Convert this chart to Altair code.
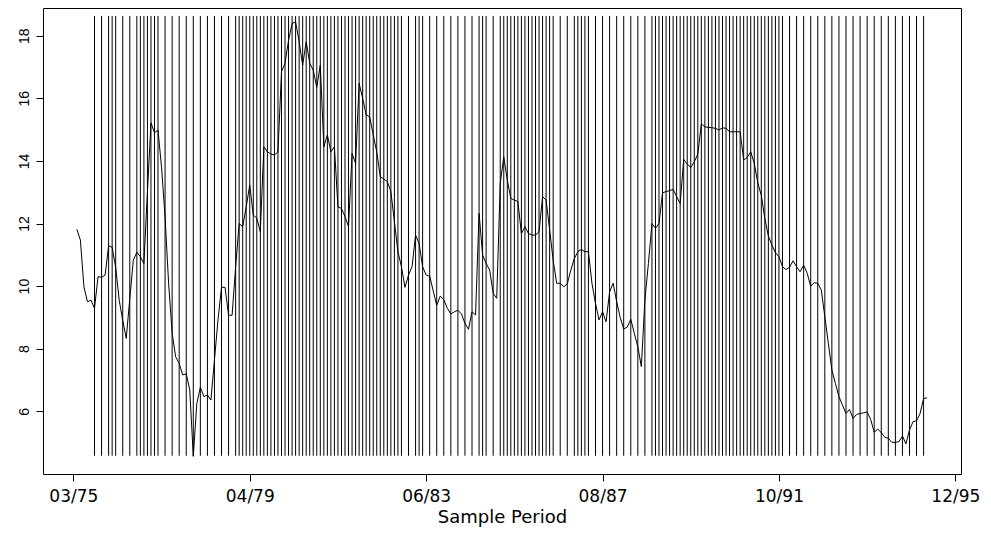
import altair as alt
import pandas as pd

# monthly series, period index 1..242 (index 0 = 03/75)
series_values = [
    11.81, 11.47, 9.98, 9.50, 9.55, 9.29, 10.30, 10.28, 10.35, 11.29,
    11.24, 10.60, 9.55, 8.90, 8.33, 9.60, 10.83, 11.08, 10.94, 10.72,
    13.00, 15.22, 14.90, 14.98, 13.80, 12.20, 10.10, 8.50, 7.74, 7.53,
    7.16, 7.20, 6.68, 4.56, 6.25, 6.77, 6.47, 6.52, 6.36, 7.64,
    8.92, 9.96, 9.96, 9.07, 9.07, 10.62, 12.00, 11.90, 12.53, 13.23,
    12.27, 12.17, 11.74, 14.45, 14.29, 14.22, 14.19, 14.29, 16.85, 17.12,
    17.86, 18.39, 18.44, 17.81, 17.06, 17.81, 17.12, 16.90, 16.35, 17.06,
    14.45, 14.83, 14.29, 14.45, 12.53, 12.48, 12.22, 11.90, 14.24, 13.92,
    16.48, 16.00, 15.47, 15.41, 14.83, 14.29, 13.50, 13.42, 13.34, 13.02,
    12.06, 11.10, 10.62, 9.96, 10.35, 10.62, 11.63, 11.36, 10.62, 10.35,
    10.32, 9.85, 9.39, 9.68, 9.57, 9.29, 9.11, 9.18, 9.23, 9.11,
    8.81, 8.62, 9.18, 9.08, 12.32, 10.99, 10.73, 10.51, 9.77, 9.61,
    13.28, 14.13, 13.39, 12.80, 12.75, 12.70, 11.68, 11.90, 11.68, 11.63,
    11.63, 11.74, 12.86, 12.75, 11.80, 10.83, 10.09, 10.09, 9.98, 10.07,
    10.51, 10.88, 11.10, 11.17, 11.10, 11.10, 10.09, 9.45, 8.92, 9.18,
    8.86, 9.82, 10.09, 9.50, 9.00, 8.63, 8.69, 8.94, 8.49, 8.06,
    7.43, 9.56, 10.73, 12.00, 11.85, 12.00, 12.98, 13.02, 13.05, 13.09,
    12.86, 12.64, 14.05, 13.90, 13.79, 13.97, 14.22, 15.18, 15.09, 15.07,
    15.06, 15.04, 14.99, 15.06, 15.04, 14.93, 14.93, 14.93, 14.93, 14.03,
    14.11, 14.29, 13.92, 13.30, 12.90, 12.15, 11.60, 11.31, 11.07, 10.94,
    10.62, 10.53, 10.60, 10.81, 10.62, 10.46, 10.67, 10.41, 10.00, 10.11,
    10.09, 9.88, 9.02, 8.17, 7.32, 6.89, 6.47, 6.20, 5.93, 6.06,
    5.77, 5.90, 5.93, 5.95, 5.98, 5.74, 5.33, 5.43, 5.32, 5.17,
    5.14, 5.01, 5.01, 5.03, 5.21, 4.96, 5.40, 5.67, 5.70, 5.93,
    6.41, 6.43,
]
period_index = list(range(1, len(series_values) + 1))

# periods marked with a vertical line
marker_periods = [
    6, 8, 10, 11, 12, 14, 16,
    18, 19, 20, 21, 22, 23, 24,
    26, 28, 30, 32, 34, 36, 38, 40, 42, 44,
    46, 47, 48, 49, 50, 51, 52, 53, 54, 55, 56, 57, 58, 59, 60, 61, 62, 63,
    64, 65, 66, 67, 68, 69, 70, 71, 72, 73, 74, 75, 76, 77, 78, 79, 80, 81,
    82, 83, 84, 85, 86, 87, 88, 89, 90, 91, 92, 93,
    95, 97, 98, 99, 101, 103, 105, 107, 109, 111, 113, 115, 116, 117, 119,
    121, 122, 123, 124, 125, 126, 127, 128, 129, 130, 131, 132, 133, 134, 135, 136,
    138, 140, 142, 143, 144, 145, 146, 148, 150, 152, 154, 156, 158, 160, 162,
    164, 165, 166, 167, 168, 169, 170, 171, 172, 173, 174, 175, 176, 177, 178,
    179, 180, 181, 182, 183, 184, 185, 186, 187, 188, 189, 190, 191, 192, 193,
    194, 195, 196, 197, 198, 199, 200, 201,
    203, 205, 207, 209, 211, 213, 215, 217, 219, 221, 223, 225, 227, 229, 231,
    233, 235, 237, 239, 241,
]
marker_low = 4.58
marker_high = 18.63

x_tick_positions = [0, 50, 100, 150, 200, 250]
x_tick_labels = ["03/75", "04/79", "06/83", "08/87", "10/91", "12/95"]
y_tick_values = [6, 8, 10, 12, 14, 16, 18]

df_line = pd.DataFrame({"period": period_index, "value": series_values})
df_marks = pd.DataFrame({
    "period": marker_periods,
    "low": [marker_low] * len(marker_periods),
    "high": [marker_high] * len(marker_periods),
})

label_array = "[" + ",".join("'%s'" % s for s in x_tick_labels) + "]"

x_scale = alt.Scale(domain=[-8.6, 251.6], nice=False, zero=False)
y_scale = alt.Scale(domain=[3.997, 18.885], nice=False, zero=False)

x_axis = alt.Axis(
    values=x_tick_positions,
    labelExpr=label_array + "[round(datum.value / 50)]",
    title="Sample Period",
    grid=False,
    domain=False,
    ticks=True,
    tickSize=7,
    tickColor="black",
    tickWidth=1,
    labelFont="DejaVu Sans",
    labelFontSize=17,
    labelColor="black",
    labelPadding=7,
    labelBaseline="top",
    labelFlush=False,
    labelOverlap=False,
    titleFont="DejaVu Sans",
    titleFontSize=18,
    titleFontWeight="normal",
    titleColor="black",
    titleBaseline="alphabetic",
    titleY=48,
)
y_axis = alt.Axis(
    values=y_tick_values,
    title=None,
    grid=False,
    domain=False,
    tickSize=7,
    tickColor="black",
    tickWidth=1,
    labelFont="Liberation Sans",
    labelFontSize=14,
    labelColor="black",
    labelAngle=270,
    labelAlign="center",
    labelBaseline="alphabetic",
    labelPadding=8,
    labelFlush=False,
    labelOverlap=False,
)

rules = alt.Chart(df_marks).mark_rule(color="black", strokeWidth=1).encode(
    x=alt.X("period:Q", scale=x_scale, axis=x_axis),
    y=alt.Y("low:Q", scale=y_scale, axis=y_axis),
    y2="high:Q",
)

line = alt.Chart(df_line).mark_line(color="black", strokeWidth=1).encode(
    x=alt.X("period:Q", scale=x_scale, axis=x_axis),
    y=alt.Y("value:Q", scale=y_scale, axis=y_axis),
)

chart = (
    alt.layer(rules, line)
    .properties(
        width=918,
        height=466,
        autosize="none",
        padding={"left": 35, "top": 0, "right": 22, "bottom": 53},
        background="white",
    )
    .configure_view(stroke="black", strokeWidth=1)
)

chart.save("out.html", embed_options={"renderer": "svg", "actions": False})
